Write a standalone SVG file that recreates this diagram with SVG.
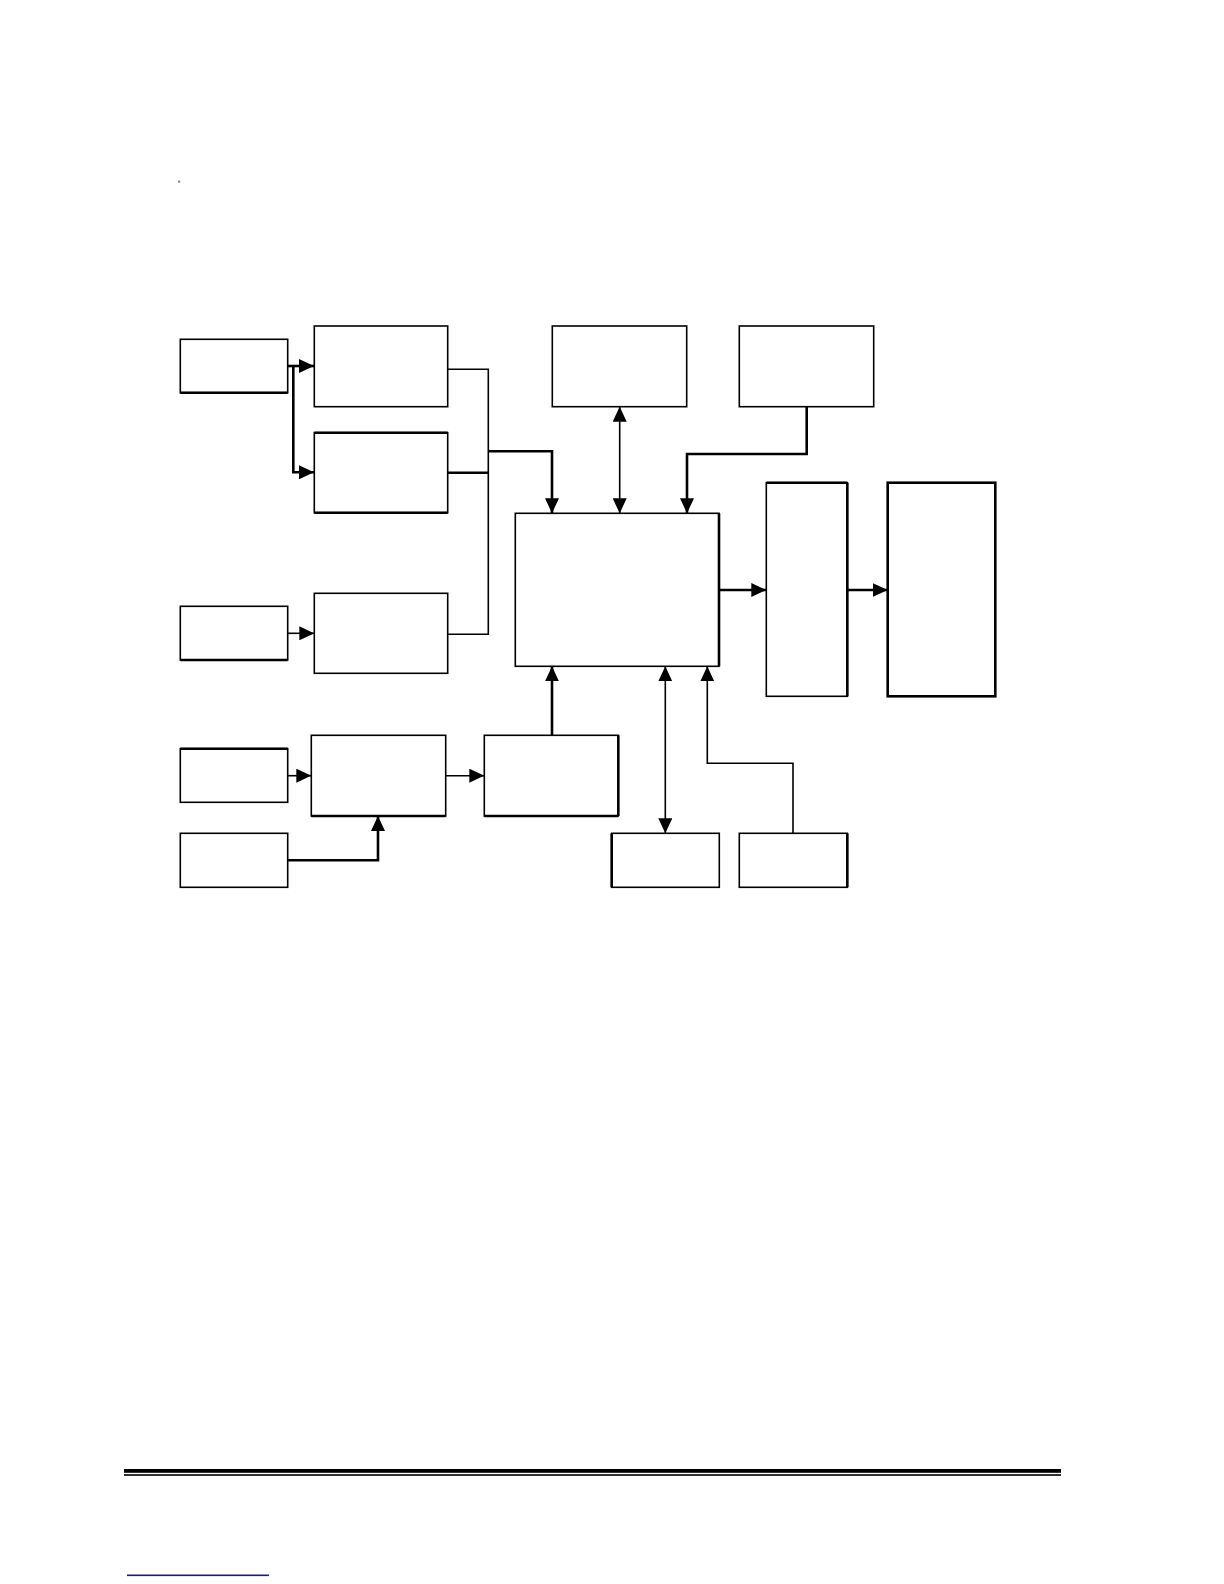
<svg xmlns="http://www.w3.org/2000/svg" width="1224" height="1584" viewBox="0 0 1224 1584">
<style>
.box{fill:#fff;stroke:#000;stroke-width:1.6}
.bx2{fill:#fff;stroke:#000;stroke-width:2.6}
.edge{stroke:#000;stroke-width:2.6;fill:none}
.thin{fill:none;stroke:#000;stroke-width:1.6}
.thick{fill:none;stroke:#000;stroke-width:2.6}
</style>
<defs>
<marker id="ah" markerUnits="userSpaceOnUse" markerWidth="15" markerHeight="14" refX="15" refY="7" orient="auto-start-reverse">
<path d="M0,0 L15,7 L0,14 z" fill="#000"/>
</marker>
</defs>
<rect width="1224" height="1584" fill="#fff"/>
<rect x="178" y="180.5" width="2.2" height="2.2" fill="#888"/>
<g id="nodes">
<g id="nA"><rect class="box" x="180.3" y="339.3" width="107.4" height="53.4"/><line class="edge" x1="180.3" y1="392.7" x2="287.7" y2="392.7"/></g>
<g id="nB"><rect class="box" x="314.3" y="326" width="133.4" height="80.7"/></g>
<g id="nC"><rect class="box" x="314.3" y="432.7" width="133.4" height="80"/><line class="edge" x1="314.3" y1="432.7" x2="447.7" y2="432.7"/><line class="edge" x1="314.3" y1="512.7" x2="447.7" y2="512.7"/></g>
<g id="nD"><rect class="box" x="180.3" y="606.3" width="107.4" height="53.7"/><line class="edge" x1="180.3" y1="660" x2="287.7" y2="660"/></g>
<g id="nE"><rect class="box" x="314.3" y="593.3" width="133.4" height="80"/></g>
<g id="nF"><rect class="box" x="180.3" y="748.7" width="107.4" height="53.6"/><line class="edge" x1="180.3" y1="748.7" x2="287.7" y2="748.7"/></g>
<g id="nG"><rect class="box" x="311.3" y="735.3" width="134.4" height="80.7"/><line class="edge" x1="311.3" y1="816" x2="445.7" y2="816"/></g>
<g id="nH"><rect class="box" x="180.3" y="833.3" width="107.4" height="54"/></g>
<g id="nI"><rect class="box" x="484.3" y="735.3" width="134" height="80.7"/><line class="edge" x1="484.3" y1="816" x2="618.3" y2="816"/><line class="edge" x1="618.3" y1="735.3" x2="618.3" y2="816"/></g>
<g id="nMain"><rect class="box" x="515.3" y="513.3" width="203.7" height="153"/><line class="edge" x1="719" y1="513.3" x2="719" y2="666.3"/></g>
<g id="nM"><rect class="box" x="552.3" y="326" width="134.4" height="80.7"/></g>
<g id="nN"><rect class="box" x="739.3" y="326" width="134.4" height="80.7"/></g>
<g id="nL"><rect class="box" x="766.3" y="482.7" width="81" height="213.6"/><line class="edge" x1="847.3" y1="482.7" x2="847.3" y2="696.3"/><line class="edge" x1="766.3" y1="482.7" x2="847.3" y2="482.7"/></g>
<g id="nO"><rect class="bx2" x="887.7" y="482.7" width="107.6" height="213.6"/></g>
<g id="nJ"><rect class="box" x="611.7" y="833.3" width="107.6" height="54"/><line class="edge" x1="611.7" y1="833.3" x2="611.7" y2="887.3"/></g>
<g id="nK"><rect class="box" x="739.3" y="833.3" width="108" height="54"/><line class="edge" x1="847.3" y1="833.3" x2="847.3" y2="887.3"/></g>
</g>
<g id="connectors">
<path class="thick" d="M287.7,366 H314" marker-end="url(#ah)"/>
<path class="thick" d="M293.3,366 V472.3 H314" marker-end="url(#ah)"/>
<path class="thin" d="M447.7,369.3 H488.3 V634.3 H447.7"/>
<path class="thick" d="M447.7,472.7 H488.3"/>
<path class="thick" d="M488.3,451.3 H552 V513.3" marker-end="url(#ah)"/>
<path class="thin" d="M619.7,406.7 V513.3" marker-start="url(#ah)" marker-end="url(#ah)"/>
<path class="thick" d="M806.7,406.7 V454 H687 V513.3" marker-end="url(#ah)"/>
<path class="thick" d="M719,590 H766.3" marker-end="url(#ah)"/>
<path class="thick" d="M847.3,590 H887.7" marker-end="url(#ah)"/>
<path class="thin" d="M287.7,633.3 H314.3" marker-end="url(#ah)"/>
<path class="thin" d="M287.7,775.7 H311.3" marker-end="url(#ah)"/>
<path class="thick" d="M287.7,860.3 H378 V816" marker-end="url(#ah)"/>
<path class="thin" d="M445.7,775.7 H484.3" marker-end="url(#ah)"/>
<path class="thick" d="M552,735.3 V666.3" marker-end="url(#ah)"/>
<path class="thin" d="M665.3,666.3 V833.3" marker-start="url(#ah)" marker-end="url(#ah)"/>
<path class="thin" d="M793,833.3 V763.3 H707.3 V666.3" marker-end="url(#ah)"/>
</g>
<rect x="124" y="1469" width="937" height="3.8" fill="#000"/>
<rect x="124" y="1474.2" width="937" height="1.6" fill="#000"/>
<rect x="127" y="1574.5" width="142" height="1.6" fill="#1a1a8c"/>
</svg>
